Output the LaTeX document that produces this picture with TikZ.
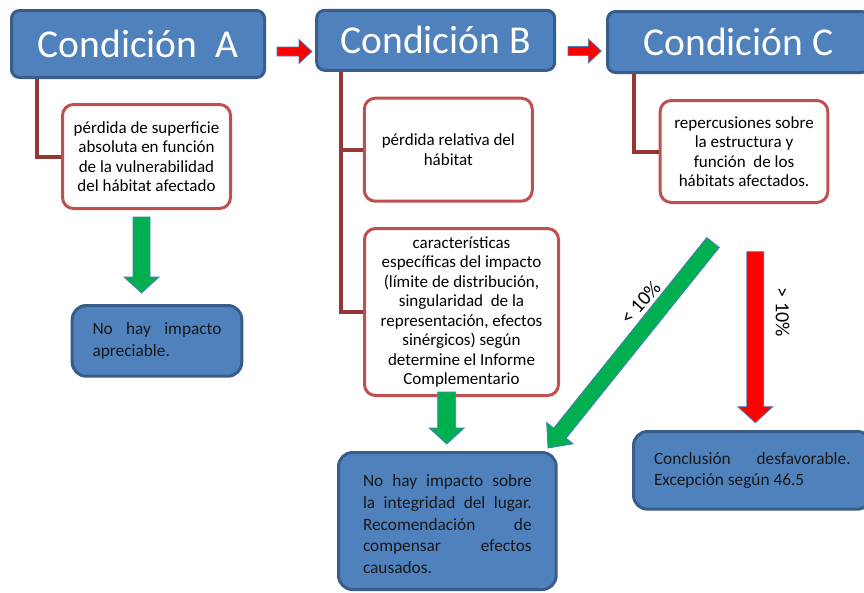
\documentclass[tikz,border=0pt]{standalone}
\usepackage{fontspec}
\setmainfont{Carlito}
\usetikzlibrary{calc}
\definecolor{bfill}{HTML}{4F81BD}
\definecolor{bdraw}{HTML}{385D8A}
\definecolor{pdraw}{HTML}{C0504D}
\definecolor{conn}{HTML}{953735}
\definecolor{agreen}{HTML}{00B050}
\definecolor{ared}{HTML}{FF0000}
\definecolor{aline}{HTML}{4A7EBB}
\newcommand\blockarrow[6]{%
  \coordinate (#1n) at ($(#2)!#5!(#1)$);
  \path[barrow,fill=#6] ($(#1)!#3!90:(#2)$) -- ($(#1n)!#3!-90:(#1)$) -- ($(#1n)!#4!-90:(#1)$) -- (#2)
    -- ($(#1n)!#4!90:(#1)$) -- ($(#1n)!#3!90:(#1)$) -- ($(#1)!#3!-90:(#2)$) -- cycle;}
\begin{document}
\begin{tikzpicture}[x=1pt,y=-1pt,
  titlebox/.style={draw=bdraw, fill=bfill, line width=3pt, rounded corners=8pt, text=white,
    font=\fontsize{39.5}{44}\selectfont, inner sep=0pt},
  pinkbox/.style={draw=pdraw, fill=white, line width=3pt, rounded corners=11pt, align=center,
    font=\fontsize{17}{19.5}\selectfont, inner sep=0pt},
  bluebox/.style={draw=bdraw, fill=bfill, line width=3pt, rounded corners=14pt, align=left,
    text=black!90, font=\fontsize{17.3}{21.7}\selectfont, inner sep=0pt},
  connline/.style={draw=conn, line width=4pt},
  barrow/.style={draw=aline, line width=0.8pt, line join=miter},
  pct/.style={font=\fontsize{20}{22}\selectfont, inner sep=0pt}]
\useasboundingbox (0,0) rectangle (864,592);
% title boxes
\node[titlebox, minimum width=253pt, minimum height=67pt] (A) at (138,44) {Condición\ \ A};
\node[titlebox, minimum width=238pt, minimum height=60pt] (B) at (435.7,40.3) {Condición B};
\node[titlebox, minimum width=262pt, minimum height=61pt] (C) at (738.5,42) {Condición C};
% connector anchors
\coordinate (ca) at (37,79);
\coordinate (cb) at (340.7,72);
\coordinate (cc) at (634,74);
% pink boxes
\node[pinkbox, minimum width=168pt, minimum height=104pt] (A1) at (146.5,156.5)
  {pérdida de superficie\\absoluta en función\\de la vulnerabilidad\\del hábitat afectado};
\node[pinkbox, minimum width=168pt, minimum height=103pt] (B1) at (448.3,149.7)
  {pérdida relativa del\\hábitat};
\node[pinkbox, minimum width=194pt, minimum height=167pt] (B2) at (461.5,312)
  {características\\específicas del impacto\\(límite de distribución,\\singularidad\ \ de la\\representación, efectos\\sinérgicos) según\\determine el Informe\\Complementario};
\node[pinkbox, minimum width=167.6pt, minimum height=102pt] (C1) at (744,151.5)
  {repercusiones sobre\\la estructura y\\función\ \ de los\\hábitats afectados.};
% connectors
\draw[connline] (ca) |- (A1.west);
\draw[connline] (cb) |- (B2.west);
\draw[connline] (cb |- B1.west) -- (B1.west);
\draw[connline] (cc) |- (C1.west);
% blue result boxes
\node[bluebox, minimum width=169.6pt, minimum height=70.7pt] (A2) at (157,340.85)
  {\makebox[129pt][s]{No hay impacto}\\apreciable.};
\node[bluebox, minimum width=217.7pt, minimum height=137pt] (B3) at (447.35,521)
  {\rule{0pt}{18.5pt}\makebox[168.7pt][s]{No hay impacto sobre}\\\makebox[168.7pt][s]{la integridad del lugar.}\\\makebox[168.7pt][s]{Recomendación de}\\\makebox[168.7pt][s]{compensar efectos}\\causados.};
\node[bluebox, minimum width=237.7pt, minimum height=77.7pt] (C2) at (752.35,470.35)
  {\makebox[196.7pt][s]{Conclusión desfavorable.}\\Excepción según 46.5};
% block arrows
\coordinate (rab1) at (277,51.5);  \coordinate (rab2) at (312,51.5);
\coordinate (rbc1) at (568,51);    \coordinate (rbc2) at (601.3,51);
\coordinate (ga1) at (141.5,217);  \coordinate (ga2) at (141.5,293);
\coordinate (gb1) at (446.7,392);  \coordinate (gb2) at (446.7,444);
\coordinate (gd1) at (713,242.5);  \coordinate (gd2) at (548,448);
\coordinate (rc1) at (755.3,251.7); \coordinate (rc2) at (755.3,422.7);
\blockarrow{rab1}{rab2}{4.5pt}{12pt}{13pt}{ared}
\blockarrow{rbc1}{rbc2}{4.5pt}{12pt}{13pt}{ared}
\blockarrow{ga1}{ga2}{8.5pt}{17.5pt}{16pt}{agreen}
\blockarrow{gb1}{gb2}{9pt}{17.5pt}{16pt}{agreen}
\blockarrow{gd1}{gd2}{8pt}{17pt}{19pt}{agreen}
\blockarrow{rc1}{rc2}{8.5pt}{17.5pt}{16pt}{ared}
% labels
\node[pct, rotate=48] (lt) at (640.5,302.5) {< 10\%};
\node[pct, rotate=-90] (gt) at (782.7,312.5) {> 10\%};
\end{tikzpicture}
\end{document}
